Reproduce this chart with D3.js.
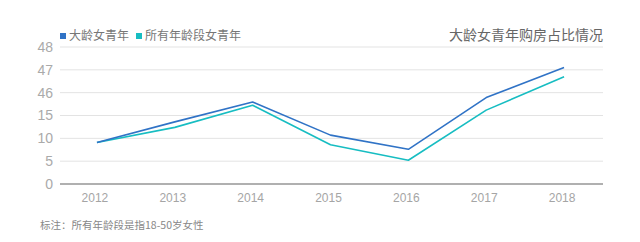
<!DOCTYPE html>
<html>
<head>
<meta charset="utf-8">
<script src="https://cdn.jsdelivr.net/npm/d3@7"></script>
<style>
  body { margin: 0; background: #fff; }
  svg text { font-family: "Noto Sans CJK SC", "Liberation Sans", sans-serif; }
  svg text.num { font-family: "Liberation Sans", sans-serif; }
</style>
</head>
<body>
<div id="chart"></div>
<script>
// data
const years = ["2012", "2013", "2014", "2015", "2016", "2017", "2018"];
const oldGirls = [9.1, 13.6, 33.4, 10.7, 7.6, 39.3, 47.1];
const allAges = [9.1, 12.4, 29.0, 8.6, 5.2, 22.3, 46.7];
const yTicks = [0, 5, 10, 15, 46, 47, 48];
const seriesNames = ["大龄女青年", "所有年龄段女青年"];
const colors = ["#3073c6", "#17bdc2"];

const width = 640, height = 242;
const margin = { top: 47, right: 37, bottom: 58, left: 60 };

const svg = d3.select("#chart").append("svg")
  .attr("width", width)
  .attr("height", height);

const x = d3.scaleBand()
  .domain(years)
  .range([margin.left - 2, width - margin.right])
  .padding(0);

// the axis has equal steps between uneven tick values
const y = d3.scaleLinear()
  .domain(yTicks)
  .range(yTicks.map((d, i) => height - margin.bottom - i * (height - margin.top - margin.bottom) / (yTicks.length - 1)));

// gridlines
svg.append("g")
  .selectAll("line")
  .data(yTicks.slice(1))
  .join("line")
  .attr("x1", margin.left)
  .attr("x2", width - margin.right)
  .attr("y1", d => y(d))
  .attr("y2", d => y(d))
  .attr("stroke", "#e3e3e3")
  .attr("stroke-width", 1);

// baseline
svg.append("line")
  .attr("x1", margin.left)
  .attr("x2", width - margin.right)
  .attr("y1", y(0))
  .attr("y2", y(0))
  .attr("stroke", "#b0b0b0")
  .attr("stroke-width", 2);

// y labels
svg.append("g")
  .selectAll("text")
  .data(yTicks)
  .join("text")
  .attr("class", "num")
  .attr("x", 53)
  .attr("y", d => y(d))
  .attr("dy", "0.35em")
  .attr("text-anchor", "end")
  .attr("fill", "#aaa")
  .attr("font-size", 14)
  .text(d => d);

// x labels
svg.append("g")
  .selectAll("text")
  .data(years)
  .join("text")
  .attr("class", "num")
  .attr("x", d => x(d) + x.bandwidth() / 2 - 2)
  .attr("y", 198)
  .attr("dy", "0.35em")
  .attr("text-anchor", "middle")
  .attr("fill", "#a5a5a5")
  .attr("font-size", 12)
  .text(d => d);

// lines
const line = d3.line()
  .x((d, i) => x(years[i]) + x.bandwidth() / 2)
  .y(d => y(d));

[allAges, oldGirls].forEach((vals, k) => {
  svg.append("path")
    .datum(vals)
    .attr("d", line)
    .attr("fill", "none")
    .attr("stroke", k === 0 ? colors[1] : colors[0])
    .attr("stroke-width", 1.6)
    .attr("stroke-linejoin", "round");
});

// legend
const legendX = [60, 136];
seriesNames.forEach((name, i) => {
  svg.append("rect")
    .attr("x", legendX[i])
    .attr("y", 33)
    .attr("width", 6)
    .attr("height", 6)
    .attr("fill", colors[i]);
  svg.append("text")
    .attr("x", legendX[i] + 9)
    .attr("y", 36)
    .attr("dy", "0.35em")
    .attr("fill", "#777")
    .attr("font-size", 12)
    .text(name);
});

// title
svg.append("text")
  .attr("x", 603)
  .attr("y", 35)
  .attr("dy", "0.35em")
  .attr("text-anchor", "end")
  .attr("fill", "#666")
  .attr("font-size", 14)
  .text("大龄女青年购房占比情况");

// note
svg.append("text")
  .attr("x", 40)
  .attr("y", 225)
  .attr("dy", "0.35em")
  .attr("fill", "#888")
  .attr("font-size", 10.5)
  .text("标注：所有年龄段是指18-50岁女性");
</script>
</body>
</html>
